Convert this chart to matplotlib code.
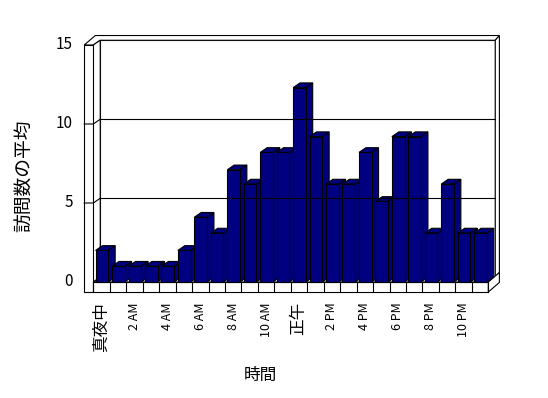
import matplotlib
matplotlib.use('Agg')
import matplotlib.pyplot as plt
from matplotlib.patches import Polygon

plt.rcParams['font.family'] = ['Noto Sans CJK JP', 'DejaVu Sans']

# data
hours = ['真夜中', '1 AM', '2 AM', '3 AM', '4 AM', '5 AM', '6 AM', '7 AM',
         '8 AM', '9 AM', '10 AM', '11 AM', '正午', '1 PM', '2 PM', '3 PM',
         '4 PM', '5 PM', '6 PM', '7 PM', '8 PM', '9 PM', '10 PM', '11 PM']
visits = [2.0, 1.0, 1.0, 1.0, 1.0, 2.0, 4.1, 3.1, 7.1, 6.2, 8.2, 8.2,
          12.3, 9.2, 6.2, 6.2, 8.2, 5.1, 9.2, 9.2, 3.1, 6.2, 3.1, 3.1]
y_ticks = [0, 5, 10, 15]
x_title = '時間'
y_title = '訪問数の平均'

# pseudo 3d look (like an old Excel column chart)
DX, DY = 0.42, 0.3       # depth offset
WALL, FLOOR = 0.55, 0.63  # wall / floor thickness
BAR_L, BAR_W = 0.14, 0.77
bar_color = '#000080'
lw = 0.8

n = len(hours)
top = max(y_ticks)

fig = plt.figure(figsize=(5.48, 3.98), dpi=100)
ax = fig.add_axes([0, 0, 1, 1])
ax.set_xlim(-5.668, 27.625)
ax.set_ylim(-7.342, 17.848)
ax.axis('off')


def poly(pts, fc='white'):
    ax.add_patch(Polygon(pts, closed=True, fc=fc, ec='black', lw=lw))


# back wall
poly([(DX, DY), (n + DX, DY), (n + DX, top + DY), (DX, top + DY)])
for t in y_ticks[1:-1]:
    ax.plot([DX, n + DX], [t + DY, t + DY], color='black', lw=lw)
# top of walls
poly([(-WALL, top), (0, top), (DX, top + DY), (n + DX, top + DY),
      (n + 1.6 * DX, top + 2 * DY), (-WALL + 1.6 * DX, top + 2 * DY)])
# right side of back wall
poly([(n + DX, DY), (n + 1.6 * DX, 2 * DY), (n + 1.6 * DX, top + 2 * DY),
      (n + DX, top + DY)])

# left wall, inner face and front face
poly([(0, 0), (0, top), (DX, top + DY), (DX, DY)])
poly([(-WALL, -FLOOR), (0, -FLOOR), (0, top), (-WALL, top)])
for t in y_ticks[1:-1]:
    ax.plot([-WALL, 0, DX], [t, t, t + DY], color='black', lw=lw)

# floor
poly([(0, 0), (n, 0), (n + DX, DY), (DX, DY)])
poly([(0, -FLOOR), (n, -FLOOR), (n, 0), (0, 0)])
poly([(n, -FLOOR), (n + 1.6 * DX, -FLOOR + 2 * DY), (n + 1.6 * DX, 2 * DY),
      (n, 0)])
for i in range(n + 1):
    ax.plot([i, i], [-FLOOR, 0], color='black', lw=lw)

# bars, left to right
for i, v in enumerate(visits):
    x0 = i + BAR_L
    x1 = x0 + BAR_W
    poly([(x1, 0), (x1 + DX, DY), (x1 + DX, v + DY), (x1, v)], bar_color)
    poly([(x0, v), (x1, v), (x1 + DX, v + DY), (x0 + DX, v + DY)], bar_color)
    poly([(x0, 0), (x1, 0), (x1, v), (x0, v)], bar_color)

# tick labels
for t in y_ticks:
    ax.text(-1.25, t, str(t), ha='right', va='center', fontsize=11)
for i, h in enumerate(hours):
    if i % 2:
        continue
    fs = 9 if h[0].isdigit() else 12
    ax.text(i + 0.5, -1.27, h, rotation=90, ha='center', va='top', fontsize=fs)

ax.text(10.13, -5.89, x_title, ha='center', va='center', fontsize=12)
ax.text(-4.15, 6.7, y_title, rotation=90, ha='center', va='center',
        fontsize=13.5)

fig.savefig('out.png', dpi=100)
